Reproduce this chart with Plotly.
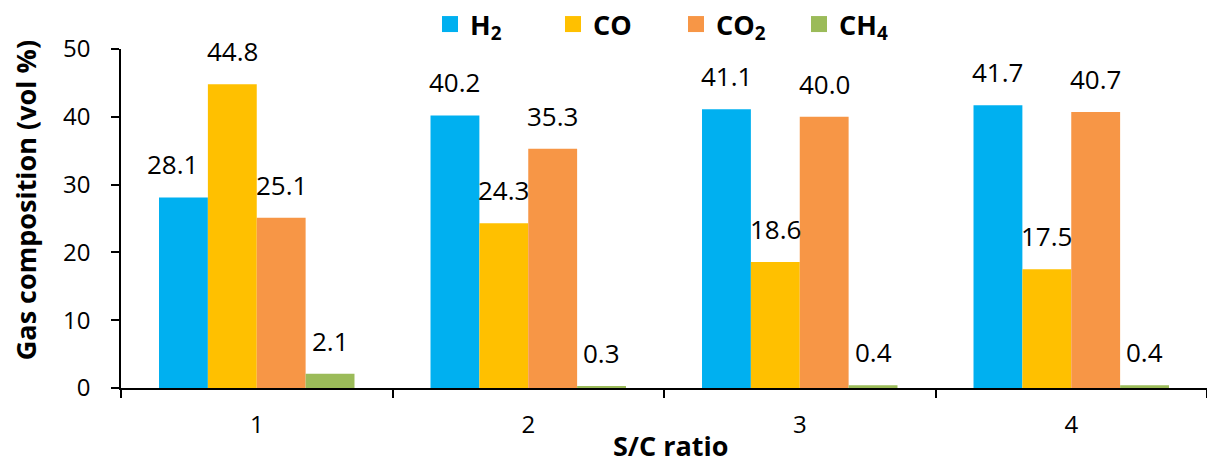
import plotly.graph_objects as go

# ---- data ----
categories = ["1", "2", "3", "4"]
series_names = ["H<sub>2</sub>", "CO", "CO<sub>2</sub>", "CH<sub>4</sub>"]
h2 = [28.1, 40.2, 41.1, 41.7]
co = [44.8, 24.3, 18.6, 17.5]
co2 = [25.1, 35.3, 40.0, 40.7]
ch4 = [2.1, 0.3, 0.4, 0.4]
y_ticks = [0, 10, 20, 30, 40, 50]

series_values = [h2, co, co2, ch4]
colors = ["#00B0F0", "#FFC000", "#F79646", "#9BBB59"]

FONT = "Open Sans"
W, H = 1207, 464
ML, MR, MT, MB = 121, 0, 45, 76
BARGAP = 0.28

fig = go.Figure()
for name, vals, col in zip(series_names, series_values, colors):
    fig.add_trace(go.Bar(
        x=categories, y=vals, name=name, marker=dict(color=col, line=dict(width=0)),
        showlegend=False,
    ))
# legend entries (square markers)
for name, col in zip(series_names, colors):
    fig.add_trace(go.Scatter(
        x=[None], y=[None], mode="markers", name=name,
        marker=dict(symbol="square", size=16, color=col),
        showlegend=True,
    ))

# data labels
n = len(series_values)
bw = (1 - BARGAP) / n
annotations = []
for i, vals in enumerate(series_values):
    off = -(1 - BARGAP) / 2 + bw * (i + 0.5)
    for j, v in enumerate(vals):
        annotations.append(dict(
            x=j + off, y=v, xref="x", yref="y", text=f"{v:.1f}",
            showarrow=False, yanchor="bottom", xanchor="center",
            yshift=13, xshift=(-11 if (i == 0 and j == 0) else 0),
            font=dict(family=FONT, size=26, color="#000"),
        ))

# axis titles
pw = W - ML - MR
ph = H - MT - MB
annotations.append(dict(
    text="<b>Gas composition (vol %)</b>", xref="paper", yref="paper",
    x=(25 - ML) / pw, y=(H - MB - 198) / ph, textangle=-90, showarrow=False,
    xanchor="center", yanchor="middle", font=dict(family=FONT, size=27, color="#000"),
))
annotations.append(dict(
    text="<b>S/C ratio</b>", xref="paper", yref="paper",
    x=(671 - ML) / pw, y=(H - MB - 446) / ph, showarrow=False,
    xanchor="center", yanchor="middle", font=dict(family=FONT, size=27, color="#000"),
))

fig.update_layout(
    width=W, height=H,
    margin=dict(l=ML, r=MR, t=MT, b=MB),
    paper_bgcolor="white", plot_bgcolor="white",
    barmode="group", bargap=BARGAP, bargroupgap=0,
    font=dict(family=FONT, color="#000"),
    annotations=annotations,
    legend=dict(
        orientation="h", x=(430 - ML) / pw, xanchor="left",
        y=(H - MB - 20) / ph, yanchor="middle",
        font=dict(family=FONT, size=27, color="#000", weight="bold"),
        entrywidth=78, entrywidthmode="pixels",
        bgcolor="rgba(0,0,0,0)",
    ),
    xaxis=dict(
        type="category", showline=True, linecolor="#000", linewidth=1.5,
        ticks="outside", tickson="boundaries", ticklen=8, tickwidth=1.5, tickcolor="#000",
        tickfont=dict(family=FONT, size=24, color="#000"), ticklabelstandoff=14,
        showgrid=False, zeroline=False,
    ),
    yaxis=dict(
        range=[0, 50], tickvals=y_ticks, showline=True, linecolor="#000", linewidth=1.5,
        ticks="outside", ticklen=8, tickwidth=1.5, tickcolor="#000",
        tickfont=dict(family=FONT, size=24, color="#000"), ticklabelstandoff=16,
        showgrid=False, zeroline=False,
    ),
)

fig.write_html("out.html")
